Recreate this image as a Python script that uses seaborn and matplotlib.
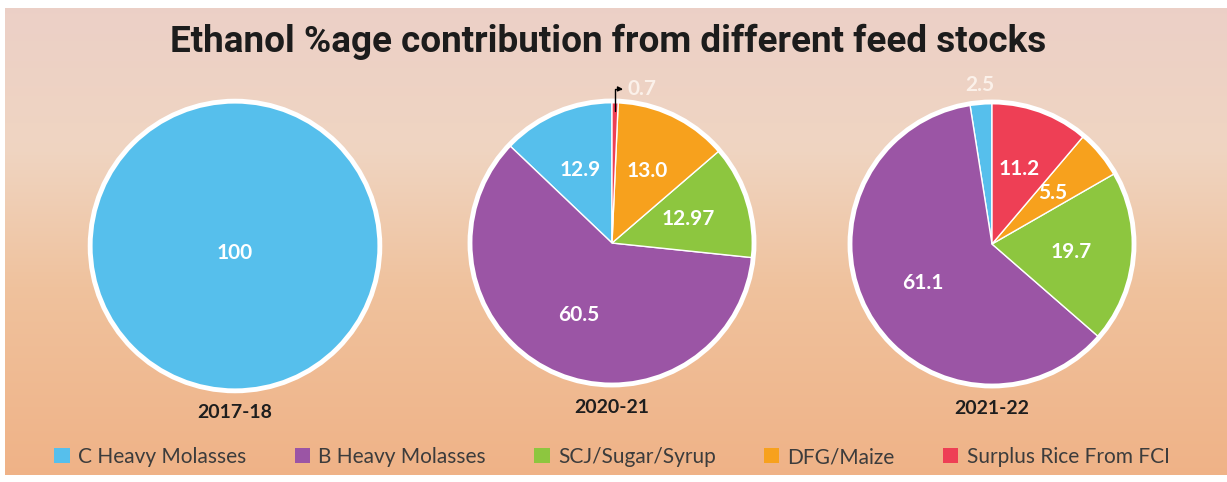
import numpy as np
import matplotlib
matplotlib.use("Agg")
import matplotlib.pyplot as plt
from matplotlib.colors import LinearSegmentedColormap
from matplotlib.patches import Patch, Circle
import seaborn as sns

# ---- data ----
title = "Ethanol %age contribution from different feed stocks"
categories = ["C Heavy Molasses", "B Heavy Molasses", "SCJ/Sugar/Syrup",
              "DFG/Maize", "Surplus Rice From FCI"]
years = ["2017-18", "2020-21", "2021-22"]
values_2017 = [100, 0, 0, 0, 0]
values_2020 = [12.9, 60.5, 12.97, 13.0, 0.7]
values_2021 = [2.5, 61.1, 19.7, 5.5, 11.2]
labels_2017 = ["100", "", "", "", ""]
labels_2020 = ["12.9", "60.5", "12.97", "13.0", "0.7"]
labels_2021 = ["2.5", "61.1", "19.7", "5.5", "11.2"]

colors = ["#56BFEC", "#9B55A5", "#8DC63F", "#F7A11D", "#EE3F55"]

sns.set_theme(style="white")
plt.rcParams["font.family"] = ["Lato", "DejaVu Sans"]

W, H = 1227, 482
fig = plt.figure(figsize=(W / 100, H / 100), dpi=100)
fig.patch.set_facecolor("white")

# background gradient
bg = fig.add_axes([5 / W, 7 / H, 1 - 5 / W, 1 - 15 / H])
bg.set_axis_off()
cmap = LinearSegmentedColormap.from_list(
    "bg", [(0.0, (0.925, 0.815, 0.780)), (0.3, (0.94, 0.835, 0.760)),
           (0.6, (0.94, 0.760, 0.615)), (1.0, (0.94, 0.700, 0.530))])
grad = np.linspace(0, 1, 256).reshape(-1, 1)
bg.imshow(grad, aspect="auto", cmap=cmap, extent=[0, 1, 0, 1], origin="upper")
bg.set_zorder(0)

fig.text(608 / W, 1 - 52 / H, title, ha="center", va="baseline",
         fontsize=26.6, fontweight="bold", color="#1c1c1c", family=["Roboto", "DejaVu Sans"])

PX = 142.0   # px per data unit
L = 1.3
side = 2 * L * PX
centers = [(235, 246, 1.02), (612, 243, 1.0), (992, 244, 1.0)]
all_vals = [values_2017, values_2020, values_2021]
all_labs = [labels_2017, labels_2020, labels_2021]

for i, ((cx, cy, rad), vals, labs, yr) in enumerate(zip(centers, all_vals, all_labs, years)):
    ax = fig.add_axes([(cx - side / 2) / W, 1 - (cy + side / 2) / H, side / W, side / H])
    ax.set_zorder(2)
    keep = [k for k, v in enumerate(vals) if v > 0]
    v = [vals[k] for k in keep]
    c = [colors[k] for k in keep]
    lab = [labs[k] if vals[k] >= 1 else "" for k in keep]
    ld = 0.05 if len(v) == 1 else 0.56
    wedges, texts = ax.pie(v, colors=c, labels=lab, startangle=90, counterclock=True,
                           radius=rad, labeldistance=ld,
                           textprops=dict(color="white", fontsize=15, fontweight="bold",
                                          ha="center", va="center"))
    for t, val in zip(texts, v):
        if val < 3:
            x, y = t.get_position()
            s = 1.12 / ld
            t.set_position((x * s, y * s))
            t.set_color("#fbf1ea")
    # very small slices annotated with an elbow arrow
    ang = 90.0
    for k, val in zip(keep, v):
        span = val / sum(v) * 360
        if val < 1:
            mid = np.deg2rad(ang + span / 2)
            px, py = 0.93 * rad * np.cos(mid), 0.93 * rad * np.sin(mid)
            ax.annotate(labs[k], xy=(px, py), xytext=(0.11, 1.085), ha="left", va="center",
                        color="#fbf1ea", fontsize=15, fontweight="bold",
                        arrowprops=dict(arrowstyle="<|-", color="black", lw=1.0,
                                        mutation_scale=7, shrinkA=1, shrinkB=0,
                                        connectionstyle="angle,angleA=0,angleB=90,rad=0"),
                        zorder=6)
        ang += span
    ax.add_patch(Circle((0, 0), rad, fill=False, ec="white", lw=3.5, zorder=5))
    ax.text(0, -1.17 if i == 0 else -1.16, yr, ha="center", va="center", fontsize=14,
            fontweight="bold", color="#1e1e1e")
    ax.set_xlim(-L, L)
    ax.set_ylim(-L, L)
    ax.set_aspect("equal")
    ax.set_axis_off()

handles = [Patch(facecolor=col, edgecolor="none") for col in colors]
leg = fig.legend(handles, categories, loc="center", bbox_to_anchor=(612 / W, 1 - 457 / H),
                 ncol=5, frameon=False, fontsize=15, handlelength=0.75, handleheight=0.75,
                 handletextpad=0.4, columnspacing=2.3, labelcolor="#3c3c3c")

fig.savefig("out.png", dpi=100)
